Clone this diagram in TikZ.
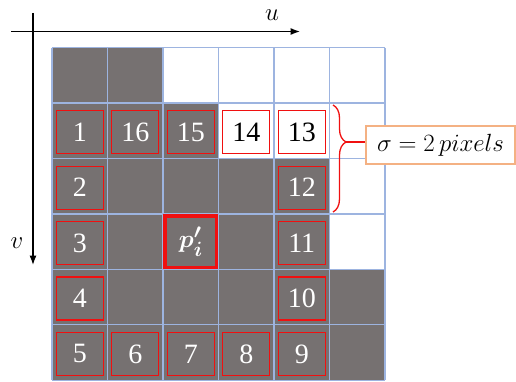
\documentclass[tikz,border=0pt]{standalone}
\usepackage{amsmath,bm}
\usepackage{fontspec}
\setmainfont{Liberation Serif}
\usetikzlibrary{arrows.meta,decorations.pathreplacing}
\definecolor{pix}{HTML}{767171}
\definecolor{gridline}{HTML}{9DB4E0}
\definecolor{ringred}{HTML}{F01010}
\definecolor{tag}{HTML}{F4B183}
\tikzset{
  >=Latex,
  axis/.style={->,line width=1.4pt},
  ring/.style={draw=ringred,line width=1.3pt,minimum width=47pt,minimum height=43pt,inner sep=0pt,
    font=\fontsize{28}{28}\selectfont,text=white},
  ringw/.style={ring,fill=white,text=black},
  pbox/.style={draw=ringred,line width=3.6pt,minimum width=51.5pt,minimum height=51.5pt,inner sep=0pt,
    text=white,font=\fontsize{30}{30}\selectfont},
  sigbox/.style={draw=tag,line width=1.3pt,fill=white,minimum width=149pt,minimum height=38pt,
    inner sep=0pt,font=\fontsize{26}{26}\selectfont},
  brace/.style={draw=ringred,line width=1.3pt,decorate,decoration={brace,amplitude=13pt,aspect=0.346}},
}

\begin{document}
\begin{tikzpicture}[x=1pt,y=-1pt]
  \useasboundingbox (0,0) rectangle (516,382);

  % axes
  \coordinate (uL) at (11,31.5);
  \coordinate (uR) at (300,31.5);
  \coordinate (vT) at (33,13);
  \coordinate (vB) at (33,265);
  \draw[axis] (uL) -- (uR);
  \draw[axis] (vT) -- (vB);
  \node[font=\fontsize{32}{32}\selectfont] (ulab) at (272,15) {$u$};
  \node[font=\fontsize{32}{32}\selectfont] (vlab) at (17,243) {$v$};

  % pixels
  \foreach \r/\n in {0/1,1/2,2/4,3/4,4/5,5/5}
    \foreach \c in {0,...,\n}
      \fill[pix] ({52+55.5*\c},{47.7+55.4*\r}) rectangle +(55.5,55.4);
  \foreach \c in {0,...,6}
    \draw[gridline,line width=1.2pt] ({52+55.5*\c},47.7) -- ({52+55.5*\c},380.1);
  \foreach \r in {0,...,6}
    \draw[gridline,line width=1.2pt] (52,{47.7+55.4*\r}) -- (385,{47.7+55.4*\r});

  % neighbours on the circle
  \foreach \c/\r/\t in {0/1/1,1/1/16,2/1/15,0/2/2,4/2/12,0/3/3,4/3/11,0/4/4,4/4/10,
                        0/5/5,1/5/6,2/5/7,3/5/8,4/5/9}
    \node[ring] (b\t) at ({79.75+55.5*\c},{76.9+55.4*\r}) {\t};
  \node[ringw] (b14) at ({79.75+55.5*3},76.9+55.4) {14};
  \node[ringw] (b13) at ({79.75+55.5*4},76.9+55.4) {13};
  \node[pbox] (pi) at (190.75,241.6) {$\bm{p'_i}$};

  % radius
  \coordinate (bt) at (333,105);
  \coordinate (bb) at (333,212);
  \coordinate (tip) at (346,142);
  \draw[brace] (bt) -- (bb);
  \node[sigbox] (sig) at (440.5,145) {$\sigma = 2\,pixels$};
  \draw[ringred,line width=1.3pt] (tip) -- (tip -| sig.west);
\end{tikzpicture}
\end{document}
